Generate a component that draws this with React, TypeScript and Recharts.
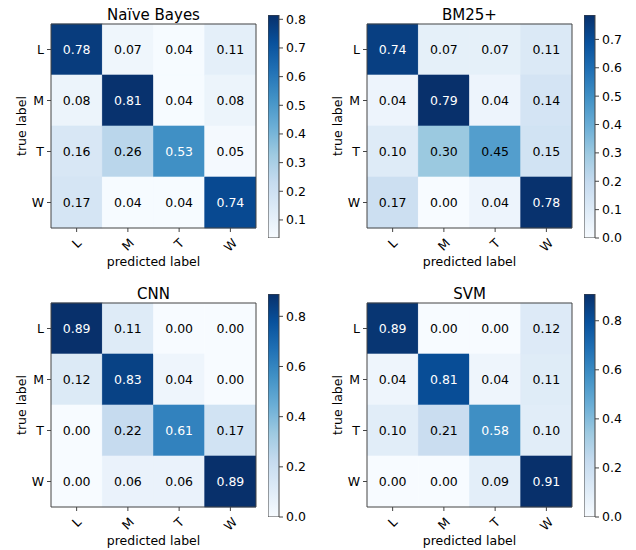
import React from 'react';
import { BarChart, Bar, XAxis, YAxis, Label } from 'recharts';

// ---------- data ----------
const classes = ['L', 'M', 'T', 'W'];
const panelTitles = ['Naïve Bayes', 'BM25+', 'CNN', 'SVM'];

const naiveBayes = [
  [0.78, 0.07, 0.04, 0.11],
  [0.08, 0.81, 0.04, 0.08],
  [0.16, 0.26, 0.53, 0.05],
  [0.17, 0.04, 0.04, 0.74],
];
const bm25Plus = [
  [0.74, 0.07, 0.07, 0.11],
  [0.04, 0.79, 0.04, 0.14],
  [0.1, 0.3, 0.45, 0.15],
  [0.17, 0.0, 0.04, 0.78],
];
const cnn = [
  [0.89, 0.11, 0.0, 0.0],
  [0.12, 0.83, 0.04, 0.0],
  [0.0, 0.22, 0.61, 0.17],
  [0.0, 0.06, 0.06, 0.89],
];
const svm = [
  [0.89, 0.0, 0.0, 0.12],
  [0.04, 0.81, 0.04, 0.11],
  [0.1, 0.21, 0.58, 0.1],
  [0.0, 0.0, 0.09, 0.91],
];
const matrices = [naiveBayes, bm25Plus, cnn, svm];

const colorbarMin = [0.037, 0.0, 0.0, 0.0];
const colorbarMax = [0.815, 0.786, 0.889, 0.909];
const colorbarTicks = [
  [0.1, 0.2, 0.3, 0.4, 0.5, 0.6, 0.7, 0.8],
  [0.0, 0.1, 0.2, 0.3, 0.4, 0.5, 0.6, 0.7],
  [0.0, 0.2, 0.4, 0.6, 0.8],
  [0.0, 0.2, 0.4, 0.6, 0.8],
];

// ---------- styling ----------
const BLUES = ['#f7fbff', '#deebf7', '#c6dbef', '#9ecae1', '#6baed6', '#4292c6', '#2171b5', '#08519c', '#08306b'];
const FONT = '"DejaVu Sans", sans-serif';
const FS = 12.5;
const FRAME = '#444';
const GLYPH_W: Record<string, number> = { L: 0.557, M: 0.863, T: 0.611, W: 0.989 };

function hexToRgb(h: string): number[] {
  return [1, 3, 5].map((i) => parseInt(h.slice(i, i + 2), 16));
}
const BLUES_RGB = BLUES.map(hexToRgb);

function blues(t: number): string {
  const tt = Math.max(0, Math.min(1, t));
  const p = tt * (BLUES_RGB.length - 1);
  const i = Math.min(Math.floor(p), BLUES_RGB.length - 2);
  const f = p - i;
  const a = BLUES_RGB[i];
  const b = BLUES_RGB[i + 1];
  const c = a.map((v, k) => Math.round(v + (b[k] - v) * f));
  return `rgb(${c[0]},${c[1]},${c[2]})`;
}

function RotatedTick(props: any) {
  const { x, y, payload } = props;
  const label = classes[Math.floor(payload.value)];
  const w = (GLYPH_W[label] ?? 0.7) * FS;
  const h = 1.17 * FS;
  const cy = y + 1.5 + (w + h) * 0.3536;
  return (
    <text
      x={x}
      y={cy}
      transform={`rotate(-45, ${x}, ${cy})`}
      textAnchor="middle"
      dominantBaseline="central"
      fontSize={FS}
      fill="#000"
    >
      {label}
    </text>
  );
}

function makeCellShape(col: number, vmin: number, vmax: number) {
  return (p: any) => {
    const { x, y, width, height, payload } = p;
    const v: number = payload.values[col];
    const fill = blues((v - vmin) / (vmax - vmin));
    return (
      <g>
        <rect x={x} y={y} width={width} height={height} fill={fill} stroke={fill} strokeWidth={0.6} />
        <text
          x={x + width / 2}
          y={y + height / 2}
          textAnchor="middle"
          dominantBaseline="central"
          fontSize={FS}
          fill={v > 0.5 ? '#fff' : '#000'}
        >
          {v.toFixed(2)}
        </text>
      </g>
    );
  };
}

function Panel({ idx, ox, oy }: { idx: number; ox: number; oy: number }) {
  const matrix = matrices[idx];
  const vmin = colorbarMin[idx];
  const vmax = colorbarMax[idx];
  const rows = classes.map((c, r) => ({ label: c, values: matrix[r], c0: 1, c1: 1, c2: 1, c3: 1 }));
  const gid = `blues-grad-${idx}`;
  return (
    <>
      <div style={{ position: 'absolute', left: ox, top: oy }}>
        <BarChart
          width={262}
          height={278}
          data={rows}
          layout="vertical"
          margin={{ top: 23, right: 5, bottom: 0, left: 21 }}
          barCategoryGap={0}
          barGap={0}
        >
          <XAxis
            type="number"
            domain={[0, 4]}
            allowDataOverflow
            ticks={[0.5, 1.5, 2.5, 3.5]}
            interval={0}
            tick={<RotatedTick />}
            tickSize={4}
            tickLine={{ stroke: FRAME }}
            axisLine={{ stroke: FRAME }}
            height={50}
          >
            <Label value="predicted label" position="insideBottom" offset={12} fontSize={FS} fill="#000" />
          </XAxis>
          <XAxis
            xAxisId="frameTop"
            orientation="top"
            type="number"
            domain={[0, 4]}
            allowDataOverflow
            height={1}
            tick={false}
            tickLine={false}
            axisLine={{ stroke: FRAME }}
          >
            <Label value={panelTitles[idx]} position="top" offset={3.5} fontSize={15} fill="#000" />
          </XAxis>
          <YAxis
            type="category"
            dataKey="label"
            width={30}
            tickSize={4}
            tickMargin={3}
            tickLine={{ stroke: FRAME }}
            axisLine={{ stroke: FRAME }}
            tick={{ fill: '#000', fontSize: FS }}
            interval={0}
          >
            <Label value="true label" angle={-90} position="insideLeft" offset={1} textAnchor="middle" fontSize={FS} fill="#000" />
          </YAxis>
          <YAxis
            yAxisId="frameRight"
            orientation="right"
            type="category"
            dataKey="label"
            width={1}
            tick={false}
            tickLine={false}
            axisLine={{ stroke: FRAME }}
          />
          {classes.map((c, j) => (
            <Bar
              key={c}
              dataKey={`c${j}`}
              stackId="cm"
              isAnimationActive={false}
              shape={makeCellShape(j, vmin, vmax)}
            />
          ))}
        </BarChart>
      </div>
      <div style={{ position: 'absolute', left: ox + 268, top: oy + 7 }}>
        <BarChart
          width={60}
          height={239}
          data={[{ name: 'scale', range: [vmin, vmax] }]}
          margin={{ top: 8, right: 0, bottom: 8, left: 0 }}
          barCategoryGap={0}
        >
          <defs>
            <linearGradient id={gid} x1="0" y1="1" x2="0" y2="0">
              {BLUES.map((c, k) => (
                <stop key={k} offset={k / (BLUES.length - 1)} stopColor={c} />
              ))}
            </linearGradient>
          </defs>
          <XAxis dataKey="name" type="category" hide />
          <YAxis
            orientation="right"
            type="number"
            domain={[vmin, vmax]}
            allowDataOverflow
            ticks={colorbarTicks[idx]}
            interval={0}
            tickFormatter={(v: number) => v.toFixed(1)}
            width={49}
            tickSize={4}
            tickMargin={3}
            tickLine={{ stroke: FRAME }}
            axisLine={false}
            tick={{ fill: '#000', fontSize: FS }}
          />
          <Bar dataKey="range" fill={`url(#${gid})`} stroke={FRAME} strokeWidth={1} isAnimationActive={false} />
        </BarChart>
      </div>
    </>
  );
}

export default function App() {
  return (
    <div
      style={{
        position: 'absolute',
        left: 0,
        top: 0,
        width: 636,
        height: 550,
        background: '#fff',
        fontFamily: FONT,
      }}
    >
      <Panel idx={0} ox={0} oy={0} />
      <Panel idx={1} ox={316} oy={0} />
      <Panel idx={2} ox={0} oy={279} />
      <Panel idx={3} ox={316} oy={279} />
    </div>
  );
}
